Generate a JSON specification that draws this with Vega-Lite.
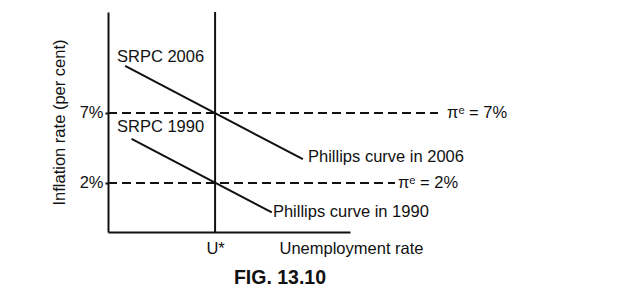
{
  "$schema": "https://vega.github.io/schema/vega-lite/v6.json",
  "width": 242,
  "height": 220,
  "autosize": {"type": "none"},
  "padding": {"left": 108, "top": 12, "right": 278, "bottom": 59},
  "background": "white",
  "config": {
    "view": {"stroke": null},
    "font": "Liberation Sans, Arial, DejaVu Sans, sans-serif"
  },
  "datasets": {
    "curves": [
      {"curve": "SRPC 2006", "x": 0.8, "y": 10.35},
      {"curve": "SRPC 2006", "x": 9.1, "y": 3.7},
      {"curve": "SRPC 1990", "x": 1.1, "y": 5.15},
      {"curve": "SRPC 1990", "x": 7.65, "y": -0.1}
    ],
    "expected": [
      {"label": "πᵉ = 7%", "x": 0, "x2": 15.41, "y": 7},
      {"label": "πᵉ = 2%", "x": 0, "x2": 13.4, "y": 2}
    ],
    "natural": [{"x": 5, "y": -1.5, "y2": 14.2}],
    "labels": [
      {"text": "SRPC 2006", "x": 0.42, "y": 11.0},
      {"text": "SRPC 1990", "x": 0.42, "y": 6.0},
      {"text": "Phillips curve in 2006", "x": 9.34, "y": 3.85},
      {"text": "Phillips curve in 1990", "x": 7.7, "y": -0.07},
      {"text": "πᵉ = 7%", "x": 15.83, "y": 7},
      {"text": "πᵉ = 2%", "x": 13.54, "y": 2}
    ],
    "caption": [{"text": "FIG. 13.10", "x": 8.03, "y": -4.78}]
  },
  "encoding": {
    "x": {
      "field": "x",
      "type": "quantitative",
      "scale": {"domain": [0, 11.3], "nice": false, "zero": false},
      "axis": {
        "values": [5],
        "labelExpr": "'U*'",
        "tickSize": 0,
        "labelPadding": 8,
        "labelFontSize": 16.5,
        "labelColor": "#111",
        "domainColor": "#111",
        "domainWidth": 2,
        "grid": false,
        "title": "Unemployment rate",
        "titleFontSize": 16.5,
        "titleFontWeight": "normal",
        "titleColor": "#111",
        "titleX": 171,
        "titleY": 8,
        "titleAlign": "left",
        "titleBaseline": "top"
      }
    },
    "y": {
      "field": "y",
      "type": "quantitative",
      "scale": {"domain": [-1.5, 14.2], "nice": false, "zero": false},
      "axis": {
        "values": [2, 7],
        "labelExpr": "datum.value + '%'",
        "tickSize": 3,
        "tickWidth": 2,
        "tickColor": "#111",
        "labelPadding": 2,
        "labelFontSize": 16.5,
        "labelColor": "#111",
        "domainColor": "#111",
        "domainWidth": 2,
        "grid": false,
        "title": "Inflation rate (per cent)",
        "titleFontSize": 16.5,
        "titleFontWeight": "normal",
        "titleColor": "#111",
        "titlePadding": 12
      }
    }
  },
  "layer": [
    {
      "data": {"name": "curves"},
      "mark": {"type": "line", "color": "#111", "strokeWidth": 2},
      "encoding": {"detail": {"field": "curve"}}
    },
    {
      "data": {"name": "expected"},
      "mark": {"type": "rule", "color": "#111", "strokeWidth": 2, "strokeDash": [9, 5]},
      "encoding": {"x2": {"field": "x2"}}
    },
    {
      "data": {"name": "natural"},
      "mark": {"type": "rule", "color": "#111", "strokeWidth": 2},
      "encoding": {"y2": {"field": "y2"}}
    },
    {
      "data": {"name": "labels"},
      "mark": {"type": "text", "align": "left", "baseline": "middle", "fontSize": 16.5, "color": "#111"},
      "encoding": {"text": {"field": "text"}}
    },
    {
      "data": {"name": "caption"},
      "mark": {"type": "text", "align": "center", "baseline": "middle", "fontSize": 19.5, "fontWeight": "bold", "color": "#111"},
      "encoding": {"text": {"field": "text"}}
    }
  ]
}
